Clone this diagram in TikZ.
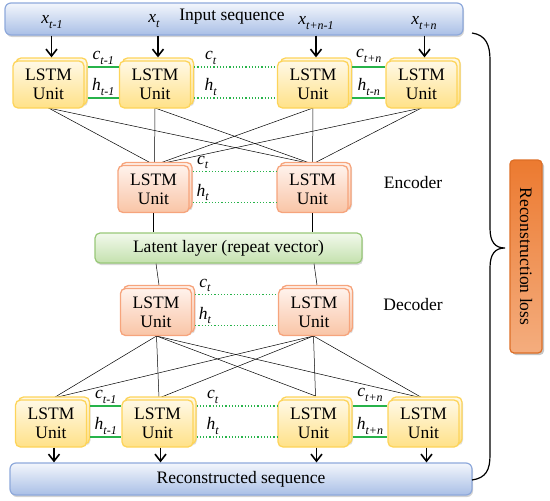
\documentclass[tikz,border=0pt]{standalone}
\usepackage{fontspec}
\setmainfont{Liberation Serif}
\usetikzlibrary{shadows,arrows.meta}
\definecolor{ybord}{HTML}{FDD45A}
\definecolor{ytop}{HTML}{FFF9E6}
\definecolor{ybot}{HTML}{FFE188}
\definecolor{obord}{HTML}{F6A47C}
\definecolor{otop}{HTML}{FFF3EC}
\definecolor{obot}{HTML}{F9C4A6}
\definecolor{gbord}{HTML}{98C878}
\definecolor{gtop}{HTML}{F2F9EC}
\definecolor{gbot}{HTML}{C4E1AE}
\definecolor{bbord}{HTML}{8EA9DB}
\definecolor{btop}{HTML}{F3F6FC}
\definecolor{bbot}{HTML}{A9BFE6}
\definecolor{rbord}{HTML}{DD6E26}
\definecolor{rtop}{HTML}{EC7A30}
\definecolor{rbot}{HTML}{F4AD7E}
\definecolor{glink}{HTML}{27B34A}
\newcommand{\lbl}[2]{\textit{#1}\raisebox{-0.25em}{\fontsize{12pt}{12pt}\selectfont\textit{#2}}}
\tikzset{
  txt/.style={font=\fontsize{17.5pt}{19pt}\selectfont},
  unitbase/.style={line width=1.3pt, rounded corners=5pt, minimum width=71pt, minimum height=47pt, inner sep=0pt, align=center, txt},
  yunit/.style={unitbase, draw=ybord, top color=ytop, bottom color=ybot},
  ounit/.style={unitbase, draw=obord, top color=otop, bottom color=obot},
  backbox/.style={xshift=3pt, yshift=3pt, drop shadow={opacity=0.25, shadow xshift=1pt, shadow yshift=-1.5pt}},
  bar/.style={draw=bbord, line width=1.2pt, rounded corners=6pt, top color=btop, bottom color=bbot, minimum height=32pt, inner sep=0pt, txt, drop shadow={opacity=0.35, shadow xshift=1pt, shadow yshift=-2pt}},
  latent/.style={draw=gbord, line width=1.2pt, rounded corners=5pt, top color=gtop, bottom color=gbot, minimum width=267pt, minimum height=30pt, inner sep=0pt, txt, drop shadow={opacity=0.3, shadow xshift=1pt, shadow yshift=-2pt}},
  lossbox/.style={draw=rbord, line width=1.2pt, rounded corners=4pt, top color=rtop, bottom color=rbot, minimum width=32pt, minimum height=193pt, inner sep=0pt, drop shadow={opacity=0.45, shadow xshift=2pt, shadow yshift=-2pt}},
  arr/.style={line width=1.6pt, -{Straight Barb[length=7pt,width=11pt,line width=1.6pt]}},
  conn/.style={line width=0.5pt, black},
  gsol/.style={line width=1.4pt, glink},
  gdot/.style={line width=1.2pt, glink, dotted},
  lab/.style={font=\fontsize{17.5pt}{17pt}\selectfont, inner sep=1pt, text=black}
}
\newcommand{\lstmunit}[4]{%
  \node[#4, backbox] (#1b) at (#2,#3) {};
  \node[#4] (#1) at (#2,#3) {LSTM\\Unit};}
\begin{document}
\begin{tikzpicture}[x=1pt,y=-1pt]
\useasboundingbox (0,0) rectangle (550,501);

% bars
\node[bar, minimum width=458pt] (inbar) at (234,19) {};
\node[txt] (intext) at (232,17) {Input sequence};
\node[bar, minimum width=462pt] (recbar) at (241,479) {Reconstructed sequence};

% connection lines (behind units)
\coordinate (t1) at (48.5,108);
\coordinate (t2) at (155,108);
\coordinate (t3) at (313,108);
\coordinate (t4) at (421.5,108);
\coordinate (ea) at (154.5,165);
\coordinate (eb) at (312.5,164);
\foreach \s in {t1,t2,t3,t4}{
  \draw[conn] (\s) -- (ea);
  \draw[conn] (\s) -- (eb);
}
\coordinate (da) at (156.5,336);
\coordinate (db) at (313.5,336);
\coordinate (b1) at (53.5,398);
\coordinate (b2) at (159,398);
\coordinate (b3) at (315.5,396);
\coordinate (b4) at (422.5,398);
\foreach \s in {b1,b2,b3,b4}{
  \draw[conn] (da) -- (\s);
  \draw[conn] (db) -- (\s);
}

% top units
\lstmunit{u1}{48.5}{84.5}{yunit}
\lstmunit{u2}{155}{84.5}{yunit}
\lstmunit{u3}{313}{84.5}{yunit}
\lstmunit{u4}{421.5}{84.5}{yunit}

% encoder
\lstmunit{ea1}{153.5}{189}{ounit}
\lstmunit{eb1}{312.5}{189}{ounit}

% latent
\node[latent] (lat) at (228.5,248) {Latent layer (repeat vector)};

% decoder
\lstmunit{da1}{156}{312}{ounit}
\lstmunit{db1}{314}{312}{ounit}

% bottom units
\lstmunit{v1}{51}{423.5}{yunit}
\lstmunit{v2}{157.5}{423.5}{yunit}
\lstmunit{v3}{313.5}{423.5}{yunit}
\lstmunit{v4}{423.5}{423.5}{yunit}

% vertical lines to latent
\draw[conn] (ea1.south) -- (lat.north -| ea1.south);
\draw[conn] (eb1.south) -- (lat.north -| eb1.south);
\draw[conn] (lat.south -| da1.north) -- (da1b.north |- da1b.north);
\draw[conn] (lat.south -| db1.north) -- (db1b.north |- db1b.north);

% input labels and arrows
\node[lab] (lx1) at (52,22) {\lbl{x}{t-1}};
\node[lab] (lx2) at (154,21) {\lbl{x}{t}};
\node[lab] (lx3) at (316,23) {\lbl{x}{t+n-1}};
\node[lab] (lx4) at (424,23) {\lbl{x}{t+n}};
\foreach \u in {u1,u2,u3,u4}{
  \draw[arr] (inbar.south -| \u b.north) -- (\u b.north);
}
% output arrows
\foreach \u in {v1,v2,v3,v4}{
  \draw[arr] (\u b.south |- \u.south) -- (\u b.south |- recbar.north);
}

% top recurrent links
\draw[gsol] ([yshift=14.5pt]u1b.east) -- node[lab, above=1pt] {\lbl{c}{t-1}} ([yshift=17.5pt]u2.west);
\draw[gsol] ([yshift=-16.5pt]u1b.east) -- node[lab, above=1pt] {\lbl{h}{t-1}} ([yshift=-13.5pt]u2.west);
\draw[gdot] ([yshift=14.5pt]u2b.east) -- node[lab, above=1pt, pos=0.2] {\lbl{c}{t}} ([yshift=17.5pt]u3.west);
\draw[gdot] ([yshift=-16.5pt]u2b.east) -- node[lab, above=1pt, pos=0.2] {\lbl{h}{t}} ([yshift=-13.5pt]u3.west);
\draw[gsol] ([yshift=14.5pt]u3b.east) -- node[lab, above=3pt] {\lbl{c}{t+n}} ([yshift=17.5pt]u4.west);
\draw[gsol] ([yshift=-16.5pt]u3b.east) -- node[lab, above=1pt] {\lbl{h}{t-n}} ([yshift=-13.5pt]u4.west);

% encoder links
\draw[gdot] ([yshift=14.5pt]ea1b.east) -- node[lab, above=1pt, pos=0.12] {\lbl{c}{t}} ([yshift=17.5pt]eb1.west);
\draw[gdot] ([yshift=-16.5pt]ea1b.east) -- node[lab, above=0pt, pos=0.12] {\lbl{h}{t}} ([yshift=-13.5pt]eb1.west);
% decoder links
\draw[gdot] ([yshift=14.5pt]da1b.east) -- node[lab, above=1pt, pos=0.12] {\lbl{c}{t}} ([yshift=17.5pt]db1.west);
\draw[gdot] ([yshift=-16.5pt]da1b.east) -- node[lab, above=0pt, pos=0.12] {\lbl{h}{t}} ([yshift=-13.5pt]db1.west);

% bottom recurrent links
\draw[gsol] ([yshift=14.5pt]v1b.east) -- node[lab, above=1pt] {\lbl{c}{t-1}} ([yshift=17.5pt]v2.west);
\draw[gsol] ([yshift=-16.5pt]v1b.east) -- node[lab, above=1pt] {\lbl{h}{t-1}} ([yshift=-13.5pt]v2.west);
\draw[gdot] ([yshift=14.5pt]v2b.east) -- node[lab, above=1pt, pos=0.2] {\lbl{c}{t}} ([yshift=17.5pt]v3.west);
\draw[gdot] ([yshift=-16.5pt]v2b.east) -- node[lab, above=1pt, pos=0.2] {\lbl{h}{t}} ([yshift=-13.5pt]v3.west);
\draw[gsol] ([yshift=14.5pt]v3b.east) -- node[lab, above=3pt] {\lbl{c}{t+n}} ([yshift=17.5pt]v4.west);
\draw[gsol] ([yshift=-16.5pt]v3b.east) -- node[lab, above=1pt] {\lbl{h}{t+n}} ([yshift=-13.5pt]v4.west);

% side labels
\node[txt] (enc) at (413,183) {Encoder};
\node[txt] (dec) at (413,305) {Decoder};

% brace
\coordinate (bs) at (472,33);
\coordinate (bt) at (505,248);
\coordinate (be) at (472,480);
\draw[line width=1.2pt] (bs) .. controls (486,35) and (490,45) .. (490,60)
  -- (490,228) .. controls (490,242) and (495,248) .. (bt)
  .. controls (495,248) and (490,254) .. (490,268)
  -- (490,455) .. controls (490,470) and (486,478) .. (be);

% loss box
\node[lossbox] (loss) at (526,256.5) {};
\node[txt, rotate=-90] (losstext) at (loss.center) {Reconstruction loss};
\end{tikzpicture}
\end{document}
